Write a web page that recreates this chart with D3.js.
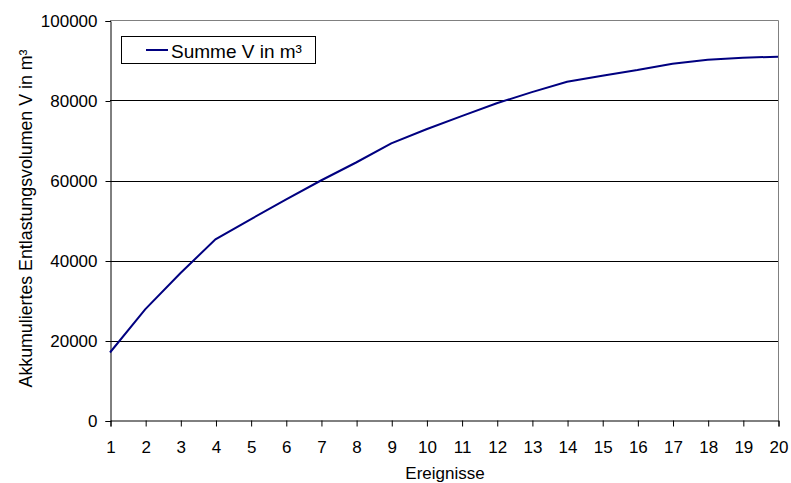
<!DOCTYPE html>
<html><head><meta charset="utf-8">
<script src="https://cdn.jsdelivr.net/npm/d3@7"></script>
<style>body{margin:0;background:#fff;}svg{display:block;font-family:"Liberation Sans",Arial,sans-serif;}</style>
</head><body>
<svg id="c" width="791" height="483"></svg>
<script>
const events = [1,2,3,4,5,6,7,8,9,10,11,12,13,14,15,16,17,18,19,20];
const summeV = [17000,27800,36800,45300,50300,55200,60000,64500,69300,72800,76100,79300,82100,84700,86200,87600,89200,90200,90700,90950];
const yTicks = [0,20000,40000,60000,80000,100000];
const seriesName = "Summe V in m³";
const xTitle = "Ereignisse";
const yTitle = "Akkumuliertes Entlastungsvolumen V in m³";

const svg = d3.select("#c");
const L = 110, R = 778, T = 20.5, B = 420.5;
const x = d3.scaleLinear().domain([1,20]).range([L,R]);
const y = d3.scaleLinear().domain([0,100000]).range([B,T]);
const fs = 17;
const ff = "Liberation Sans, Arial, sans-serif";

// gridlines
svg.append("g").selectAll("line").data(yTicks.filter(d=>d>0 && d<100000)).join("line")
  .attr("x1",L).attr("x2",R).attr("y1",d=>Math.round(y(d))+0.5).attr("y2",d=>Math.round(y(d))+0.5)
  .attr("stroke","#000").attr("stroke-width",1);
// top/right border grey
svg.append("path").attr("d",`M${L},${T}H${R+0.5}V${B}`).attr("fill","none").attr("stroke","#808080").attr("stroke-width",1);

// y axis
const ya = d3.axisLeft(y).tickValues(yTicks).tickSize(5).tickPadding(8).tickFormat(d3.format("d"));
const gy = svg.append("g").attr("transform",`translate(${L+0.5},0.5)`).call(ya);
gy.select(".domain").attr("stroke","#000");
gy.selectAll("text").attr("font-size",fs).attr("fill","#000").attr("font-family",ff);
// x axis
const xa = d3.axisBottom(x).tickValues(events).tickSize(6).tickPadding(10).tickFormat(d3.format("d"));
const gx = svg.append("g").attr("transform",`translate(0.5,${B})`).call(xa);
gx.select(".domain").attr("stroke","#000");
gx.selectAll("text").attr("font-size",fs).attr("fill","#000").attr("font-family",ff).attr("dy",null).attr("y",32);

// line
const line = d3.line().x((d,i)=>x(events[i])).y(d=>y(d));
svg.append("path").datum(summeV).attr("d",line).attr("fill","none").attr("stroke","#000080").attr("stroke-width",2);

// legend
const lg = svg.append("g");
lg.append("rect").attr("x",121.5).attr("y",36.5).attr("width",194).attr("height",27).attr("fill","#fff").attr("stroke","#000");
lg.append("line").attr("x1",146).attr("x2",168).attr("y1",50).attr("y2",50).attr("stroke","#000080").attr("stroke-width",2);
lg.append("text").attr("x",171).attr("y",58).attr("font-size",19).text(seriesName);

// titles
svg.append("text").attr("x",445).attr("y",479).attr("text-anchor","middle").attr("font-size",17).text(xTitle);
svg.append("text").attr("transform",`translate(32,218.5) rotate(-90)`).attr("text-anchor","middle").attr("font-size",17.8).text(yTitle);
</script>
</body></html>
